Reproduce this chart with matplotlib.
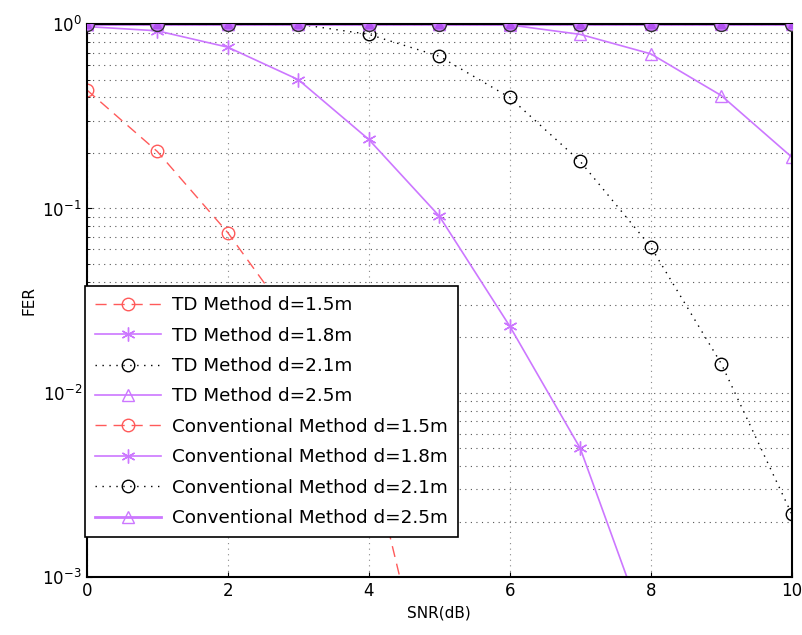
import matplotlib
matplotlib.use("Agg")
import matplotlib.pyplot as plt

snr = [0, 1, 2, 3, 4, 5, 6, 7, 8, 9, 10]

td_15 = [0.44, 0.204, 0.074, 0.022, 0.005, 1.3e-4]
td_18 = [0.97, 0.92, 0.75, 0.50, 0.237, 0.091, 0.023, 0.005, 4.4e-4]
td_21 = [1.0, 1.0, 1.0, 1.0, 0.88, 0.67, 0.40, 0.18, 0.062, 0.0144, 0.0022]
td_25 = [1.0, 1.0, 1.0, 1.0, 1.0, 1.0, 0.99, 0.88, 0.69, 0.41, 0.19]
conv = [1.0] * 11

red = '#ff5a5a'
purple = '#cc77ff'
star = (6, 2, 0)

fig = plt.figure(figsize=(8.03, 6.35), dpi=100)
ax = fig.add_axes([0.108, 0.091, 0.878, 0.871])

ax.semilogy(snr[:len(td_15)], td_15, color=red, linestyle=(0, (8, 5)), marker='o', mfc='none', ms=9, lw=1,
            label='TD Method d=1.5m')
ax.semilogy(snr[:len(td_18)], td_18, color=purple, linestyle='-', marker=star, ms=10, lw=1.2,
            label='TD Method d=1.8m')
ax.semilogy(snr, td_21, color='black', linestyle=(0, (1, 4)), marker='o', mfc='none', ms=9, lw=1,
            label='TD Method d=2.1m')
ax.semilogy(snr, td_25, color=purple, linestyle='-', marker='^', mfc='none', ms=9, lw=1.2,
            label='TD Method d=2.5m')

ax.semilogy(snr, conv, color=red, linestyle=(0, (8, 5)), marker='o', mfc='none', ms=9, lw=1,
            label='Conventional Method d=1.5m')
ax.semilogy(snr, conv, color=purple, linestyle='-', marker=star, ms=10, lw=1.2,
            label='Conventional Method d=1.8m')
ax.semilogy(snr, conv, color='black', linestyle=(0, (1, 4)), marker='o', mfc='none', ms=9, lw=1,
            label='Conventional Method d=2.1m')
ax.semilogy(snr, conv, color=purple, linestyle='-', marker='^', mfc='none', ms=9, lw=2,
            label='Conventional Method d=2.5m')
# overlapping markers at FER=1 render as a filled purple blob
ax.semilogy(snr, conv, linestyle='none', marker='o', mfc=purple, mec='#333333', ms=10, zorder=5)
ax.semilogy(snr, conv, linestyle='none', marker='^', mfc='#b050ee', mec='#b050ee', ms=6, zorder=6)

ax.set_xlim(0, 10)
ax.set_ylim(1e-3, 1)
ax.set_xticks([0, 2, 4, 6, 8, 10])
ax.grid(True, which='major', axis='x', linestyle=(0, (1, 4)), color='#888888', lw=0.8)
ax.grid(True, which='both', axis='y', linestyle=(0, (1, 4)), color='#555555', lw=0.8)
ax.tick_params(which='both', direction='in', labelsize=12)
for s in ax.spines.values():
    s.set_linewidth(1.5)

ax.set_xlabel('SNR(dB)', fontsize=11)
ax.set_ylabel('FER', fontsize=11)

leg = ax.legend(loc='lower left', bbox_to_anchor=(-0.003, 0.072), fontsize=13.2,
                fancybox=False, edgecolor='black', framealpha=1, handlelength=3.6,
                handletextpad=0.6, borderaxespad=0, labelspacing=0.68, borderpad=0.55)
leg.get_frame().set_linewidth(1.2)
leg.set_zorder(10)

fig.savefig('out.png', dpi=100)
